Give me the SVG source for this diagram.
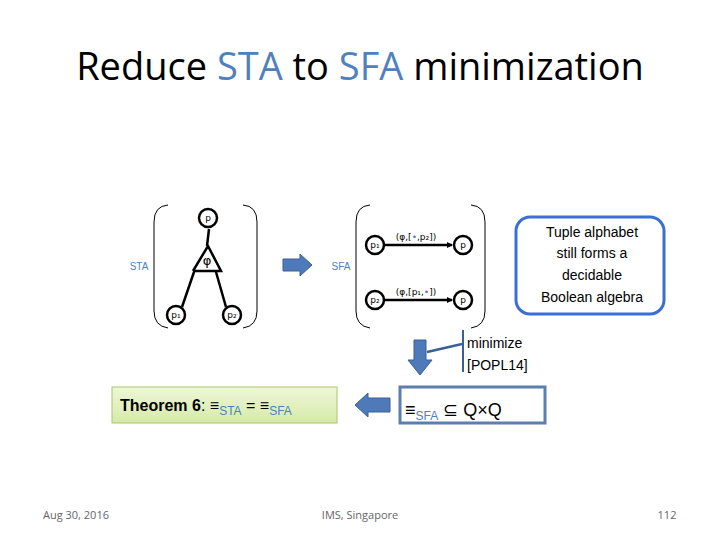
<svg xmlns="http://www.w3.org/2000/svg" width="720" height="540" viewBox="0 0 720 540">
<defs>
<style>
.s{font-family:"Liberation Sans",Arial,sans-serif}
.c{font-family:"Open Sans","Liberation Sans",sans-serif}
.n{fill:#fff;stroke:#000;stroke-width:2.5}
.nl{font-family:"DejaVu Sans",sans-serif;font-size:9px;text-anchor:middle}
.e{stroke:#000;stroke-width:2.5;fill:none}
.br{stroke:#000;stroke-width:1;fill:none}
.bar{fill:#4f7aba;stroke:#3b5f95;stroke-width:1}
</style>
<linearGradient id="g" x1="0" y1="0" x2="0" y2="1"><stop offset="0" stop-color="#eef7d8"/><stop offset="1" stop-color="#d5eaa8"/></linearGradient>
<marker id="a" markerWidth="6" markerHeight="6" refX="5" refY="3" orient="auto" markerUnits="userSpaceOnUse"><path d="M0,0L6,3L0,6z"/></marker>
</defs>
<rect width="720" height="540" fill="#fff"/>
<text x="360" y="80" class="c" font-size="38" text-anchor="middle">Reduce <tspan fill="#4f81bd">STA</tspan> to <tspan fill="#4f81bd">SFA</tspan> minimization</text>
<g id="connectors">
<path class="e" d="M182,307L194,272M226,307L216,272M193,271L221,271L208,246L193,271M207,246L209,229" />
<path class="e" d="M384,245L452,245" marker-end="url(#a)"/>
<path class="e" d="M384,300L452,300" marker-end="url(#a)"/>
<path d="M427,352L462,344" stroke="#3b5f95" stroke-width="2.5"/>
<path d="M463,330V372" stroke="#3b5f95" stroke-width="2"/>
</g>
<g id="sta">
<path class="br" d="M168,205Q154,206 154,222V311Q154,326 168,328M243,205Q257,206 257,222V311Q257,326 243,328"/>
<text x="139" y="270" class="s" font-size="10" fill="#4f81bd" text-anchor="middle">STA</text>
<text x="207" y="265" class="nl" style="font-size:13px">φ</text>
<circle class="n" cx="208" cy="218" r="9"/><text x="208" y="221" class="nl">p</text>
<circle class="n" cx="176" cy="315" r="9"/><text x="176" y="318" class="nl">p₁</text>
<circle class="n" cx="232" cy="315" r="9"/><text x="232" y="318" class="nl">p₂</text>
</g>
<g id="bigarrow"><path class="bar" d="M283,259H300V254L312,265L300,276V271H283z"/></g>
<g id="sfa">
<path class="br" d="M370,205Q356,206 356,222V311Q356,326 370,328M471,205Q485,206 485,222V311Q485,326 471,328"/>
<text x="341" y="270" class="s" font-size="10" fill="#4f81bd" text-anchor="middle">SFA</text>
<circle class="n" cx="375" cy="245" r="9"/><text x="375" y="248" class="nl">p₁</text>
<circle class="n" cx="463" cy="245" r="9"/><text x="463" y="248" class="nl">p</text>
<circle class="n" cx="375" cy="300" r="9"/><text x="375" y="303" class="nl">p₂</text>
<circle class="n" cx="463" cy="300" r="9"/><text x="463" y="303" class="nl">p</text>
<text x="416" y="240" class="nl">(φ,[<tspan fill="#4f81bd">•</tspan>,p₂])</text>
<text x="416" y="295" class="nl">(φ,[p₁,<tspan fill="#4f81bd">•</tspan>])</text>
</g>
<g id="callout">
<rect x="516" y="217" width="148" height="97" rx="14" fill="#fff" stroke="#3a6fd8" stroke-width="3"/>
<g class="s" font-size="14" text-anchor="middle"><text x="592" y="237">Tuple alphabet</text><text x="592" y="258">still forms a</text><text x="592" y="280">decidable</text><text x="592" y="302">Boolean algebra</text></g>
</g>
<g id="down"><path class="bar" d="M414,340H426V360H432L420,375L408,360H414z"/></g>
<g id="minlabel" class="s" font-size="14"><text x="467" y="348">minimize</text><text x="467" y="370">[POPL14]</text></g>
<g id="sfabox">
<rect x="400" y="387" width="145" height="36" fill="#fff" stroke="#5b7fae" stroke-width="3"/>
<text x="405" y="416" class="s" font-size="18">≡<tspan font-size="12" dy="4" fill="#4f81bd">SFA</tspan><tspan dy="-4"> ⊆ Q×Q</tspan></text>
</g>
<g id="leftarrow"><path class="bar" d="M390,398H368V393L355,405L368,417V412H390z"/></g>
<g id="theorem">
<rect x="112" y="387" width="225" height="36" fill="url(#g)" stroke="#a8c868" stroke-width="1"/>
<text x="120" y="411" class="s" font-size="16"><tspan font-weight="bold">Theorem 6</tspan>: ≡<tspan font-size="12" dy="4" fill="#4f81bd">STA</tspan><tspan dy="-4"> =  ≡</tspan><tspan font-size="12" dy="4" fill="#4f81bd">SFA</tspan></text>
</g>
<g class="c" font-size="11" fill="#666">
<text x="76" y="519" text-anchor="middle">Aug 30, 2016</text>
<text x="360" y="519" text-anchor="middle">IMS, Singapore</text>
<text x="667" y="519" text-anchor="middle">112</text>
</g>
</svg>
